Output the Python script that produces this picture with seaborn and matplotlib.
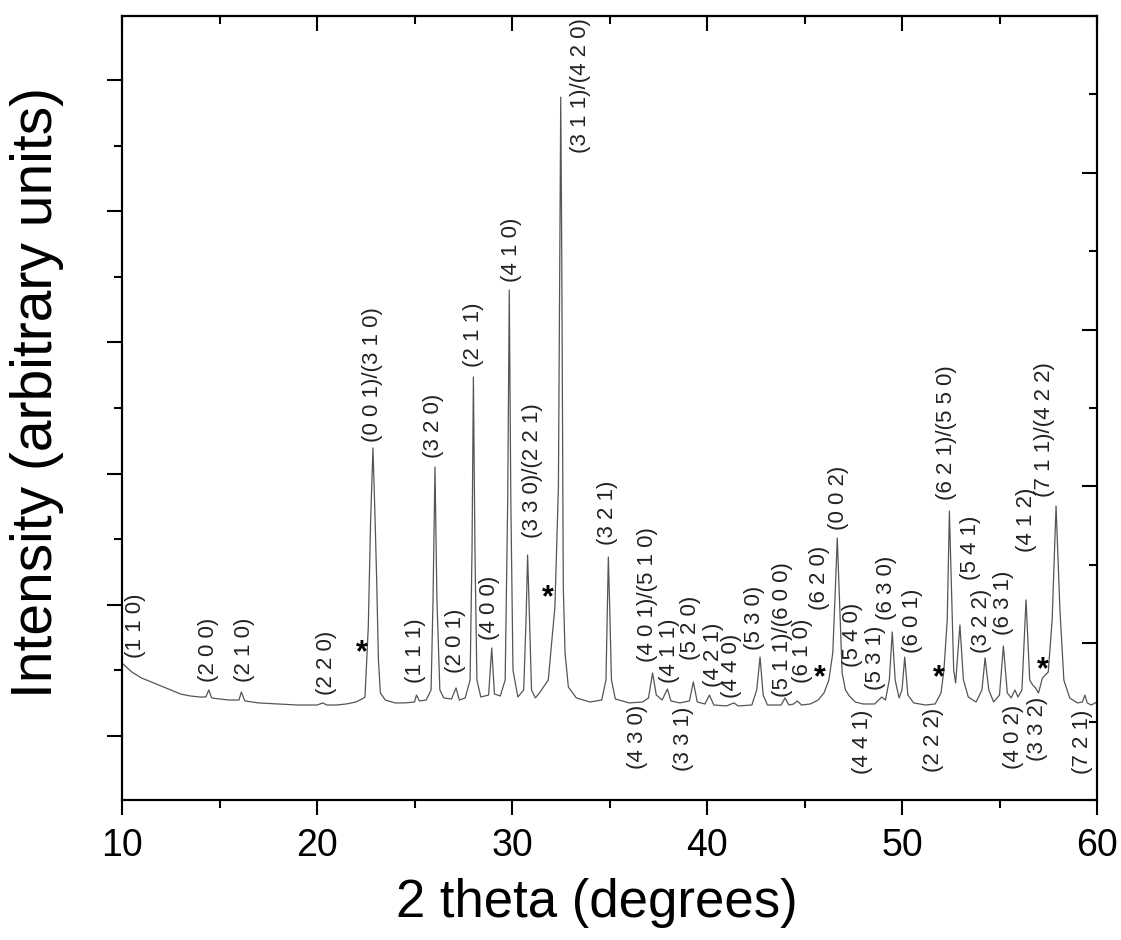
import matplotlib
matplotlib.use("Agg")
import matplotlib.pyplot as plt
import pandas as pd
import seaborn as sns
from matplotlib.ticker import MultipleLocator

# ---------------- data ----------------
theta = [10.0, 10.5, 11.0, 11.5, 12.0, 12.5, 13.0, 13.5, 14.0, 14.3, 14.45, 14.6, 15.0, 15.5,
         16.0, 16.12, 16.3, 17.0, 18.0, 19.0, 20.0, 20.3, 20.5, 21.0, 21.5, 22.0, 22.3, 22.46,
         22.63, 22.75, 22.87, 22.98, 23.06, 23.15, 23.25, 23.5, 24.0, 24.5, 25.0, 25.1, 25.25,
         25.6, 25.85, 25.95, 26.05, 26.15, 26.3, 26.5, 26.9, 27.13, 27.3, 27.6, 27.85, 27.95,
         28.02, 28.1, 28.2, 28.4, 28.8, 28.96, 29.1, 29.4, 29.65, 29.78, 29.86, 29.94, 30.05,
         30.3, 30.6, 30.72, 30.8, 30.9, 31.0, 31.2, 31.44, 31.86, 32.2, 32.38, 32.45, 32.5,
         32.55, 32.63, 32.72, 32.89, 33.3, 34.0, 34.6, 34.82, 34.9, 34.94, 35.0, 35.1, 35.3,
         36.0, 36.7, 37.0, 37.21, 37.4, 37.7, 37.97, 38.15, 38.6, 39.1, 39.3, 39.5, 39.9,
         40.12, 40.35, 41.0, 41.38, 41.6, 42.3, 42.55, 42.72, 42.88, 43.1, 43.8, 44.0, 44.2,
         44.45, 44.63, 44.85, 45.3, 45.7, 46.0, 46.25, 46.45, 46.58, 46.68, 46.8, 46.93, 47.1,
         47.3, 47.6, 48.0, 48.6, 48.96, 49.15, 49.35, 49.5, 49.65, 49.85, 50.0, 50.14, 50.3,
         50.6, 51.2, 51.7, 52.0, 52.15, 52.32, 52.43, 52.55, 52.65, 52.75, 52.97, 53.15, 53.4,
         53.8, 54.1, 54.26, 54.45, 54.7, 55.0, 55.2, 55.4, 55.6, 55.79, 55.95, 56.15, 56.36,
         56.55, 56.7, 56.85, 57.0, 57.2, 57.5, 57.7, 57.9, 58.1, 58.3, 58.6, 59.0, 59.25,
         59.38, 59.5, 59.7, 60.0]
intensity = [556, 488, 442, 412, 381, 351, 320, 305, 297, 297, 351, 290, 282, 274,
             274, 335, 267, 252, 244, 236, 236, 252, 236, 236, 244, 259, 282, 297,
             831, 1646, 2195, 1646, 1189, 579, 328, 274, 252, 252, 259, 312, 267,
             274, 351, 1037, 2050, 1037, 351, 290, 282, 366, 274, 290, 427, 1418,
             2736, 1418, 427, 297, 312, 671, 320, 305, 427, 1799, 3399, 1799, 503,
             297, 351, 884, 1380, 884, 351, 290, 335, 427, 983, 1898, 3704, 4870,
             3704, 1136, 633, 373, 290, 259, 274, 427, 1037, 1364, 1037, 427, 282,
             252, 259, 290, 480, 312, 274, 358, 267, 252, 267, 412, 259, 244,
             312, 236, 229, 252, 229, 236, 351, 602, 312, 236, 236, 290, 236,
             244, 267, 236, 244, 274, 328, 427, 633, 1113, 1509, 1014, 480, 351,
             305, 259, 244, 244, 297, 274, 427, 793, 427, 290, 351, 602, 312,
             252, 236, 244, 328, 503, 884, 1715, 1037, 503, 404, 846, 427, 297,
             259, 351, 595, 351, 259, 312, 686, 328, 290, 351, 297, 351, 1037,
             427, 389, 366, 328, 442, 488, 884, 1753, 960, 427, 290, 252, 259,
             312, 252, 236, 259]

above_text = ["(1 1 0)", "(2 0 0)", "(2 1 0)", "(2 2 0)", "(0 0 1)/(3 1 0)", "(1 1 1)",
              "(3 2 0)", "(2 0 1)", "(4 0 0)", "(2 1 1)", "(4 1 0)", "(3 3 0)/(2 2 1)",
              "(3 1 1)/(4 2 0)", "(3 2 1)", "(4 0 1)/(5 1 0)", "(4 1 1)", "(5 2 0)",
              "(4 2 1)", "(4 4 0)", "(5 3 0)", "(5 1 1)/(6 0 0)", "(6 1 0)", "(6 2 0)",
              "(0 0 2)", "(5 4 0)", "(5 3 1)", "(6 3 0)", "(6 0 1)", "(6 2 1)/(5 5 0)",
              "(5 4 1)", "(3 2 2)", "(6 3 1)", "(4 1 2)", "(7 1 1)/(4 2 2)"]
above_x = [10.67, 14.46, 16.26, 20.51, 22.87, 25.03, 25.95, 27.08, 28.87, 28.0, 30.0, 31.03,
           33.49, 34.92, 36.97, 38.1, 39.13, 40.31, 41.28, 42.46, 43.85, 44.92, 45.79,
           46.72, 47.44, 48.62, 49.23, 50.56, 52.26, 53.49, 54.1, 55.18, 56.41, 57.33]
above_y = [595, 412, 412, 312, 2241, 404, 2119, 480, 732, 2812, 3460, 1509,
           4444, 1456, 564, 404, 579, 373, 290, 655, 297, 404, 960,
           1570, 526, 351, 884, 633, 1799, 1189, 633, 770, 1402, 1822]

below_text = ["(4 3 0)", "(3 3 1)", "(4 4 1)", "(2 2 2)", "(4 0 2)", "(3 3 2)", "(7 2 1)"]
below_x = [36.46, 38.82, 47.95, 51.59, 55.74, 56.95, 59.28]
below_y = [236, 221, 198, 213, 236, 297, 198]

star_x = [22.31, 31.85, 45.79, 51.9, 57.23]
star_y = [709, 1128, 518, 518, 579]

x_ticks = [10, 20, 30, 40, 50, 60]

# ---------------- figure ----------------
sns.set_theme(style="white")
plt.rcParams["font.family"] = ["Liberation Sans", "DejaVu Sans"]

W, H = 1121, 940
fig = plt.figure(figsize=(W / 100, H / 100), dpi=100)
ax = fig.add_axes([122 / W, 1 - 800 / H, 975 / W, 784 / H])

df = pd.DataFrame({"theta": theta, "intensity": intensity})
sns.lineplot(data=df, x="theta", y="intensity", color="#555555", linewidth=0.9,
             ax=ax, estimator=None, sort=False)

ax.set_xlim(10, 60)
ax.set_ylim(-488, 5488)

ax.set_xticks(x_ticks)
ax.set_xticklabels([str(t) for t in x_ticks])
ax.xaxis.set_minor_locator(MultipleLocator(5))
ax.yaxis.set_major_locator(MultipleLocator(1000))
ax.yaxis.set_minor_locator(MultipleLocator(500))

ax.tick_params(axis="x", which="both", direction="out", bottom=True, top=False,
               width=1.5, color="black", labelsize=27, pad=9, labelcolor="black")
ax.tick_params(axis="x", which="major", length=11)
ax.tick_params(axis="x", which="minor", length=5.5)
ax.tick_params(axis="y", which="both", direction="out", left=True, right=False,
               labelleft=False, width=1.5, color="black")
ax.tick_params(axis="y", which="major", length=11)
ax.tick_params(axis="y", which="minor", length=5.5)

for sp in ax.spines.values():
    sp.set_linewidth(1.5)
    sp.set_color("black")

# top ticks (inward)
sec = ax.secondary_xaxis("top")
sec.set_xticks(x_ticks)
sec.xaxis.set_minor_locator(MultipleLocator(5))
sec.tick_params(axis="x", which="both", direction="in", labeltop=False, width=1.5,
                color="black")
sec.tick_params(axis="x", which="major", length=11)
sec.tick_params(axis="x", which="minor", length=5.5)
sec.spines["top"].set_linewidth(1.5)

# right ticks (inward) on a second scale
ax2 = ax.twinx()
ax2.set_ylim(0, 5)
ax2.yaxis.set_major_locator(MultipleLocator(1))
ax2.yaxis.set_minor_locator(MultipleLocator(0.5))
ax2.tick_params(axis="y", which="both", direction="in", right=True, labelright=False,
                width=1.5, color="black")
ax2.tick_params(axis="y", which="major", length=11)
ax2.tick_params(axis="y", which="minor", length=5.5)
for sp in ax2.spines.values():
    sp.set_linewidth(1.5)
    sp.set_color("black")

ax.set_xlabel("2 theta (degrees)", fontsize=38, color="black", va="top")
ax.xaxis.set_label_coords(0.487, -0.1)
ax.set_ylabel("Intensity (arbitrary units)", fontsize=41, color="black", va="center")
ax.yaxis.set_label_coords(-0.087, 0.52)

lab_kw = dict(rotation=90, ha="center", fontsize=16, color="#222222")
for s, x, y in zip(above_text, above_x, above_y):
    ax.text(x, y, s, va="bottom", **lab_kw)
for s, x, y in zip(below_text, below_x, below_y):
    ax.text(x, y, s, va="top", **lab_kw)
for x, y in zip(star_x, star_y):
    ax.annotate("*", (x, y), xytext=(0, -13), textcoords="offset points",
                ha="center", va="baseline", fontsize=22, fontweight="bold",
                color="black")

fig.savefig("out.png", dpi=100)
